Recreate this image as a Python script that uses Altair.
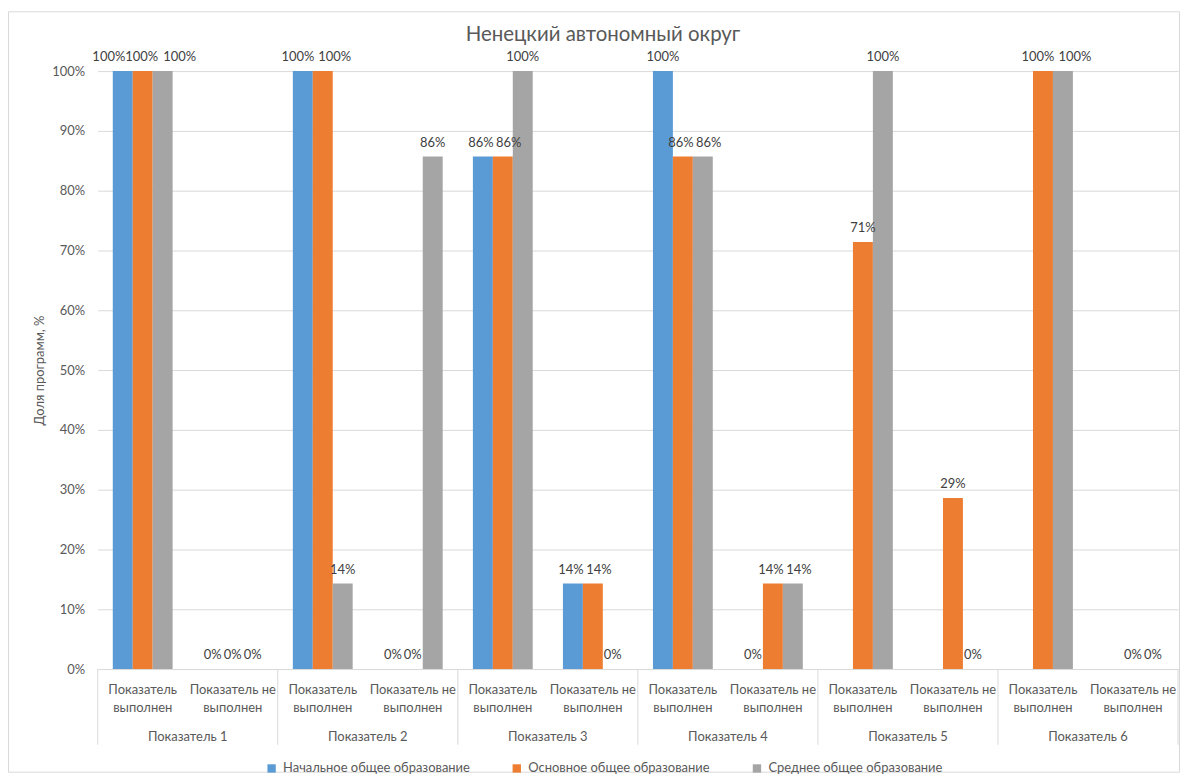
import json
import altair as alt
import pandas as pd

# ---- data ----
groups = ["Показатель 1", "Показатель 2", "Показатель 3",
          "Показатель 4", "Показатель 5", "Показатель 6"]
statuses = ["Показатель\nвыполнен", "Показатель не\nвыполнен"]
series = ["Начальное общее образование", "Основное общее образование",
          "Среднее общее образование"]
colors = ["#5B9BD5", "#ED7D31", "#A5A5A5"]

nachalnoe = [1.0, 0.0, 1.0, 0.0, 0.857, 0.143, 1.0, 0.0, None, None, None, None]
osnovnoe = [1.0, 0.0, 1.0, 0.0, 0.857, 0.143, 0.857, 0.143, 0.714, 0.286, 1.0, 0.0]
srednee = [1.0, 0.0, 0.143, 0.857, 1.0, 0.0, 0.857, 0.143, 1.0, 0.0, 1.0, 0.0]
y_ticks = [0, 0.1, 0.2, 0.3, 0.4, 0.5, 0.6, 0.7, 0.8, 0.9, 1.0]
title_text = "Ненецкий автономный округ"

# ---- tables ----
cats = [f"{gi}-{si}" for gi in range(len(groups)) for si in range(len(statuses))]
rows = []
for s, vals in zip(series, [nachalnoe, osnovnoe, srednee]):
    for c, v in zip(cats, vals):
        if v is not None:
            rows.append({"cat": c, "series": s, "value": v})
df = pd.DataFrame(rows)
cat_df = pd.DataFrame({"cat": cats, "label": [s for _ in groups for s in statuses]})
grp_df = pd.DataFrame({"cat": cats[1::2], "group": groups})
sep_left = pd.DataFrame({"cat": cats[0::2]})
sep_right = pd.DataFrame({"cat": [cats[-1]]})
title_df = pd.DataFrame({"t": [title_text]})

FONT = "Lato"
GREY_TXT = "#595959"
xscale = alt.Scale(domain=cats, paddingInner=0, paddingOuter=0)
xoff = alt.XOffset("series:N", scale=alt.Scale(domain=series, paddingInner=0, paddingOuter=0.757))
yscale = alt.Scale(domain=[0, 1])
X = alt.X("cat:N", scale=xscale, axis=None, sort=cats)

base = alt.Chart(df)

bars = base.mark_bar().encode(
    x=X,
    xOffset=xoff,
    y=alt.Y("value:Q", scale=yscale,
            axis=alt.Axis(values=y_ticks, format=".0%", title="Доля программ, %",
                          domain=False, ticks=False, gridColor="#D9D9D9",
                          labelFontSize=13, labelColor=GREY_TXT, labelFont=FONT,
                          labelPadding=13, titleFont=FONT, titleFontSize=13,
                          titleColor=GREY_TXT, titleFontWeight="normal",
                          titleX=-58, titleY=300, titleAlign="center",
                          titleBaseline="middle", titleAngle=-90)),
    color=alt.Color("series:N", scale=alt.Scale(domain=series, range=colors),
                    legend=alt.Legend(title=None, orient="none", direction="horizontal",
                                      legendX=168, legendY=693, symbolType="square",
                                      symbolSize=70, symbolStrokeWidth=0,
                                      labelFontSize=13, labelFont=FONT, labelLimit=0,
                                      labelColor=GREY_TXT, columnPadding=40,
                                      labelOffset=5)),
)

# data labels with simple collision avoidance between neighbouring bars
lab_base = base.transform_calculate(
    idx="indexof(%s, datum.series)" % json.dumps(series)
).transform_window(
    prev_v="lag(value)", next_v="lead(value)", prev_i="lag(idx)", next_i="lead(idx)",
    groupby=["cat"], sort=[alt.SortField("idx")]
).transform_calculate(
    ovp="isValid(datum.prev_v) && datum.prev_i == datum.idx - 1 && "
        "abs(datum.prev_v - datum.value) < 0.04 && max(datum.prev_v, datum.value) >= 0.095 ? 1 : 0",
    ovn="isValid(datum.next_v) && datum.next_i == datum.idx + 1 && "
        "abs(datum.next_v - datum.value) < 0.04 && max(datum.next_v, datum.value) >= 0.095 ? 1 : 0",
).transform_calculate(
    mid="datum.ovp * datum.ovn"
).transform_joinaggregate(
    nmid="sum(mid)", groupby=["cat"]
).transform_calculate(
    wide="datum.value >= 0.995 ? 1 : 0"
).transform_calculate(
    dxv="datum.mid == 1 ? -1 : "
        "datum.ovn == 1 ? (datum.nmid > 0 ? -14 : (datum.wide == 1 ? -5 : -2)) : "
        "datum.ovp == 1 ? (datum.nmid > 0 ? 17 : (datum.wide == 1 ? 12 : 6)) : 0"
)

label_layers = []
for d in [0, -1, -14, -5, -2, 17, 12, 6]:
    label_layers.append(
        lab_base.transform_filter(f"datum.dxv == {d}").mark_text(
            dx=d, dy=-10, baseline="alphabetic", fontSize=13, font=FONT,
            color="#404040").encode(
            x=X, xOffset=xoff, y=alt.Y("value:Q", scale=yscale),
            text=alt.Text("value:Q", format=".0%"),
        )
    )

sub_labels = alt.Chart(cat_df).mark_text(lineBreak="\n", baseline="top", fontSize=13,
                                         font=FONT, color=GREY_TXT, lineHeight=18).encode(
    x=X, y=alt.value(615), text="label:N",
)

grp_labels = alt.Chart(grp_df).mark_text(baseline="middle", fontSize=13, font=FONT,
                                         color=GREY_TXT).encode(
    x=alt.X("cat:N", scale=xscale, axis=None, sort=cats, bandPosition=0),
    y=alt.value(668), text="group:N",
)

sep1 = alt.Chart(sep_left).mark_rule(color="#D9D9D9", strokeWidth=1).encode(
    x=alt.X("cat:N", scale=xscale, axis=None, sort=cats, bandPosition=0),
    y=alt.value(600), y2=alt.value(676),
)
sep2 = alt.Chart(sep_right).mark_rule(color="#D9D9D9", strokeWidth=1).encode(
    x=alt.X("cat:N", scale=xscale, axis=None, sort=cats, bandPosition=1),
    y=alt.value(600), y2=alt.value(676),
)

border = alt.Chart(title_df).mark_rect(fill=None, stroke="#D9D9D9", strokeWidth=1).encode(
    x=alt.value(-89.5), x2=alt.value(1085.5), y=alt.value(-59.5), y2=alt.value(703.5),
)

title = alt.Chart(title_df).mark_text(fontSize=20.5, font=FONT, color=GREY_TXT,
                                      baseline="alphabetic", align="center").encode(
    x=alt.value(507), y=alt.value(-30), text="t:N",
)

chart = alt.layer(border, bars, *label_layers, sub_labels, grp_labels, sep1, sep2,
                  title).properties(
    width=1084, height=600,
    autosize=alt.AutoSizeParams(type="none"),
    padding={"left": 90, "top": 62, "right": 2, "bottom": 104},
).configure_view(stroke=None)

chart.save("out.html", embed_options={"renderer": "svg", "actions": False})
